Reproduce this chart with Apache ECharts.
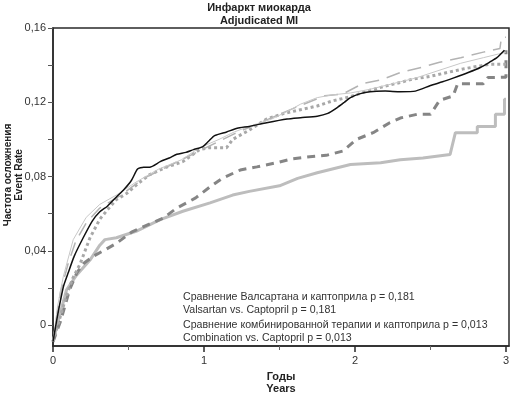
<!DOCTYPE html>
<html><head><meta charset="utf-8">
<script src="https://cdn.jsdelivr.net/npm/echarts@6/dist/echarts.min.js"></script>
<style>html,body{margin:0;padding:0;background:#fff}#c{width:510px;height:393px}</style>
</head><body><div id="c"></div>
<script>
// tick labels
const yLabelValues = [0, 0.04, 0.08, 0.12, 0.16];
const yTickValues = [0, 0.02, 0.04, 0.06, 0.08, 0.1, 0.12, 0.14, 0.16];
const xLabelValues = [0, 1, 2, 3];
const xMinorTickValues = [0.5, 1.5, 2.5];

const titleText = "Инфаркт миокарда\nAdjudicated MI";
const yName = "Частота осложнения\nEvent Rate";
const xName = "Годы\nYears";
const noteLines = [
  "Сравнение Валсартана и каптоприла p = 0,181",
  "Valsartan vs. Captopril p = 0,181",
  "Сравнение комбинированной терапии и каптоприла p = 0,013",
  "Combination vs. Captopril p = 0,013"
];

// series values [years, event rate]
const blackSolid = [[0,-0.009],[0.03,0.005],[0.07,0.021],[0.1,0.028],[0.14,0.037],[0.2,0.047],[0.26,0.056],[0.31,0.061],[0.36,0.064],[0.42,0.069],[0.47,0.073],[0.52,0.078],[0.56,0.084],[0.6,0.085],[0.64,0.085],[0.71,0.088],[0.77,0.09],[0.82,0.092],[0.88,0.093],[0.93,0.0945],[0.99,0.096],[1.03,0.099],[1.07,0.102],[1.15,0.104],[1.22,0.106],[1.3,0.107],[1.415,0.109],[1.55,0.111],[1.64,0.1117],[1.75,0.1125],[1.82,0.114],[1.88,0.117],[1.93,0.12],[1.97,0.1225],[2.03,0.1245],[2.1,0.1257],[2.2,0.126],[2.3,0.1257],[2.4,0.126],[2.5,0.129],[2.58,0.131],[2.65,0.133],[2.75,0.136],[2.83,0.1387],[2.9,0.142],[2.94,0.144],[2.99,0.148]];
const thinGray = [[0,-0.009],[0.03,0.01],[0.068,0.026],[0.134,0.046],[0.22,0.058],[0.31,0.065],[0.42,0.07],[0.55,0.077],[0.7,0.084],[0.85,0.089],[0.97,0.0955],[1.1,0.1],[1.2,0.104],[1.3,0.107],[1.45,0.111],[1.55,0.115],[1.64,0.119],[1.75,0.1225],[1.85,0.124],[1.97,0.125],[2.1,0.127],[2.25,0.13],[2.4,0.133],[2.55,0.137],[2.7,0.141],[2.85,0.144],[2.95,0.146],[3.0,0.147]];
const longDashGray = [[0,-0.009],[0.05,0.018],[0.1,0.033],[0.15,0.045],[0.22,0.055],[0.31,0.063],[0.45,0.07],[0.6,0.079],[0.8,0.087],[1.0,0.095],[1.2,0.103],[1.4,0.11],[1.6,0.117],[1.8,0.1235],[1.92,0.1245],[2.05,0.13],[2.17,0.132],[2.3,0.136],[2.45,0.139],[2.56,0.1415],[2.7,0.144],[2.85,0.147],[2.96,0.149],[2.97,0.155],[3.0,0.155]];
const dottedGray = [[0,-0.009],[0.05,0.005],[0.09,0.016],[0.13,0.025],[0.18,0.033],[0.245,0.047],[0.31,0.057],[0.36,0.062],[0.42,0.0676],[0.49,0.071],[0.56,0.076],[0.64,0.081],[0.75,0.085],[0.86,0.088],[0.97,0.0945],[1.03,0.0955],[1.1,0.0955],[1.15,0.0955],[1.19,0.1],[1.3,0.105],[1.415,0.111],[1.53,0.114],[1.64,0.116],[1.75,0.118],[1.85,0.1207],[1.97,0.123],[2.08,0.126],[2.17,0.128],[2.3,0.1307],[2.38,0.1324],[2.5,0.134],[2.61,0.136],[2.72,0.138],[2.83,0.1396],[2.9,0.1405],[3.0,0.1405]];
const dashedDark = [[0,-0.009],[0.05,0.002],[0.11,0.019],[0.157,0.028],[0.2,0.033],[0.267,0.037],[0.333,0.04],[0.42,0.044],[0.52,0.05],[0.6,0.053],[0.73,0.0576],[0.82,0.063],[0.945,0.0685],[1.03,0.0738],[1.12,0.079],[1.24,0.0835],[1.35,0.0852],[1.48,0.0874],[1.59,0.0896],[1.7,0.0906],[1.81,0.0914],[1.92,0.0937],[2.01,0.1],[2.12,0.1036],[2.23,0.109],[2.3,0.1115],[2.41,0.1135],[2.5,0.1135],[2.56,0.121],[2.65,0.1234],[2.68,0.13],[2.85,0.13],[2.88,0.1333],[3.0,0.1335],[3.0,0.148]];
const thickGray = [[0,-0.009],[0.04,0.004],[0.09,0.019],[0.157,0.027],[0.245,0.035],[0.31,0.043],[0.344,0.046],[0.42,0.047],[0.55,0.0505],[0.71,0.0568],[0.86,0.0613],[1.04,0.0658],[1.19,0.07],[1.3,0.072],[1.5,0.075],[1.62,0.079],[1.75,0.082],[1.97,0.0865],[2.17,0.0874],[2.3,0.089],[2.45,0.09],[2.63,0.0919],[2.665,0.1036],[2.81,0.1036],[2.81,0.107],[2.93,0.107],[2.93,0.1135],[2.99,0.1135],[2.99,0.1216],[3.0,0.1216]];

const FONT = '"Liberation Sans", Arial, sans-serif';
const chart = echarts.init(document.getElementById('c'), null, {renderer: 'canvas'});
const axisColor = '#2a2a2a';
function fmtY(v){ return v === 0 ? '0' : String(v).replace('.', ','); }

function line(data, color, width, type, z, smooth){
  return {type:'line', data, showSymbol:false, symbol:'none', smooth:smooth || false, z,
    lineStyle:{color, width, type, cap:'butt'}, emphasis:{disabled:true}, animation:false};
}

chart.setOption({
  animation:false,
  title:{text:titleText, left:259, top:1, padding:0, textAlign:'center',
    textStyle:{fontFamily:FONT, fontSize:11, fontWeight:'bold', color:'#222', lineHeight:13}},
  grid:{left:53, right:1, top:28, bottom:47, outerBoundsMode:'none', containLabel:false,
    show:true, borderColor:axisColor, borderWidth:1.5, backgroundColor:'transparent'},
  xAxis:[{type:'value', min:0, max:3.02, position:'bottom',
    axisLine:{show:true, onZero:false, lineStyle:{color:axisColor, width:1.5}},
    axisTick:{show:true, customValues:xLabelValues, length:6, lineStyle:{color:axisColor, width:1.5}},
    axisLabel:{show:true, customValues:xLabelValues, margin:9, fontFamily:FONT, fontSize:11, color:'#333',
      formatter:v=>String(v)},
    splitLine:{show:false},
    name:xName, nameLocation:'middle', nameGap:24,
    nameTextStyle:{fontFamily:FONT, fontSize:11, fontWeight:'bold', color:'#222', lineHeight:12}},
   {type:'value', min:0, max:3.02, position:'bottom', offset:0,
    axisLine:{show:false, onZero:false}, axisLabel:{show:false}, splitLine:{show:false},
    axisTick:{show:true, customValues:xMinorTickValues, length:4, lineStyle:{color:'#666', width:1}}}],
  yAxis:{type:'value', min:-0.0113, max:0.16,
    axisLine:{show:true, onZero:false, lineStyle:{color:axisColor, width:1.5}},
    axisTick:{show:true, customValues:yTickValues, length:5, lineStyle:{color:'#555', width:1}},
    axisLabel:{show:true, customValues:yLabelValues, margin:7, fontFamily:FONT, fontSize:11, color:'#333', formatter:fmtY},
    splitLine:{show:false}},
  graphic:[{type:'text', x:14, y:175, rotation:Math.PI/2,
            style:{text:yName, fontFamily:FONT, fontSize:10, fontWeight:'bold', fill:'#222', lineHeight:11, align:'center', verticalAlign:'middle'}},
           {type:'text', left:183, top:291, style:{text:noteLines[0]+'\n'+noteLines[1], fontFamily:FONT, fontSize:10.6, fill:'#333', lineHeight:13}},
           {type:'text', left:183, top:319, style:{text:noteLines[2]+'\n'+noteLines[3], fontFamily:FONT, fontSize:10.6, fill:'#333', lineHeight:13}}],
  series:[
    line(thickGray, '#bdbdbd', 3, 'solid', 1),
    line(dashedDark, '#858585', 3, [8,6], 2),
    line(dottedGray, '#a8a8a8', 3, [3,3], 3),
    line(longDashGray, '#b3b3b3', 1.5, [14,8], 4),
    line(thinGray, '#c8c8c8', 1, 'solid', 5),
    line(blackSolid, '#111', 1.5, 'solid', 6, 0.2)
  ]
});
</script></body></html>
